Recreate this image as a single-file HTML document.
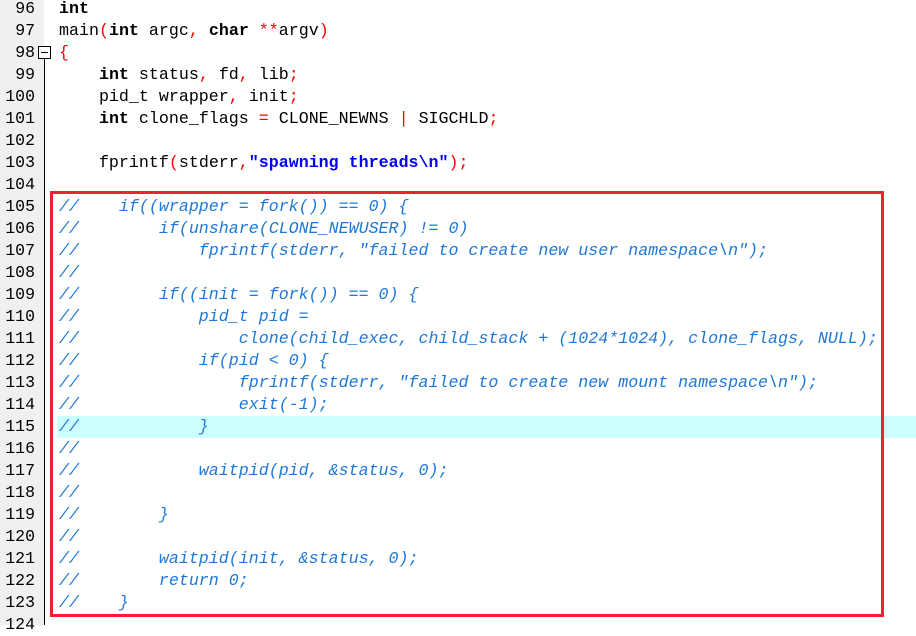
<!DOCTYPE html><html><head><style>
body{margin:0;width:916px;height:625px;overflow:hidden;background:#fff;position:relative;font-family:"Liberation Mono","DejaVu Sans Mono",monospace;font-size:16.65px}
.g{position:absolute;left:0;top:0;width:44px;height:625px;background:#f0f0f0}
.fl{position:absolute;left:44px;top:58px;width:1px;height:567px;background:#000}
.fb{position:absolute;left:38px;top:46px;width:11px;height:11px;border:1px solid #000;background:#fff}
.fb:after{content:"";position:absolute;left:2px;top:5px;width:7px;height:1px;background:#000}
.hl{position:absolute;left:57px;top:416px;width:859px;height:22px;background:#ccffff}
.ln{position:absolute;left:0;top:-2px;width:35px;text-align:right;line-height:22px;color:#000;font-size:16.5px}
.code{position:absolute;left:59px;top:-2px;line-height:22px;white-space:pre;color:#000}
b{font-weight:bold}.r{color:#ff0000}.s{color:#0000ff;font-weight:bold}.c{color:#1e78d7;font-style:italic}
.box{position:absolute;left:50px;top:191px;width:828px;height:420px;border:3px solid #ee2233}
</style></head><body>
<div class="g"></div><div class="fl"></div><div class="fb"></div>
<div class="hl"></div>
<div class="ln">96<br>97<br>98<br>99<br>100<br>101<br>102<br>103<br>104<br>105<br>106<br>107<br>108<br>109<br>110<br>111<br>112<br>113<br>114<br>115<br>116<br>117<br>118<br>119<br>120<br>121<br>122<br>123<br>124</div>
<div class="code"><b>int</b>
main<span class="r">(</span><b>int</b> argc<span class="r">,</span> <b>char</b> <span class="r">**</span>argv<span class="r">)</span>
<span class="r">{</span>
    <b>int</b> status<span class="r">,</span> fd<span class="r">,</span> lib<span class="r">;</span>
    pid_t wrapper<span class="r">,</span> init<span class="r">;</span>
    <b>int</b> clone_flags <span class="r">=</span> CLONE_NEWNS <span class="r">|</span> SIGCHLD<span class="r">;</span>

    fprintf<span class="r">(</span>stderr<span class="r">,</span><span class="s">"spawning threads\n"</span><span class="r">);</span>

<span class="c">//    if((wrapper = fork()) == 0) {
//        if(unshare(CLONE_NEWUSER) != 0)
//            fprintf(stderr, "failed to create new user namespace\n");
//
//        if((init = fork()) == 0) {
//            pid_t pid =
//                clone(child_exec, child_stack + (1024*1024), clone_flags, NULL);
//            if(pid &lt; 0) {
//                fprintf(stderr, "failed to create new mount namespace\n");
//                exit(-1);
//            }
//
//            waitpid(pid, &amp;status, 0);
//
//        }
//
//        waitpid(init, &amp;status, 0);
//        return 0;
//    }</span></div>
<div class="box"></div>
</body></html>
